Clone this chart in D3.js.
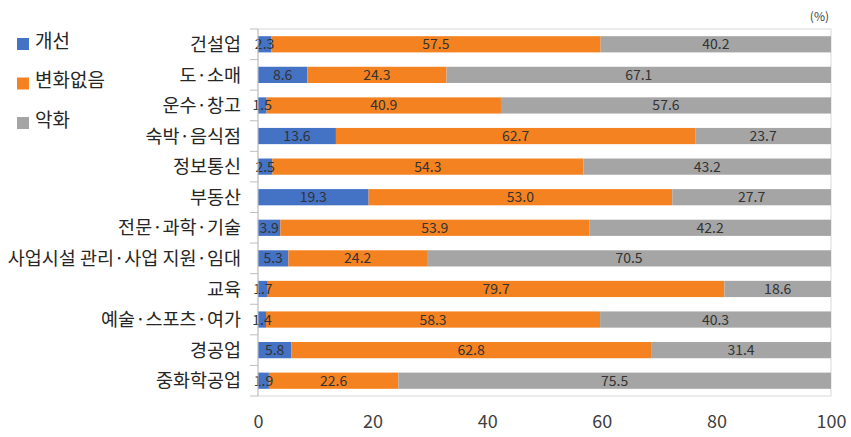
<!DOCTYPE html>
<html>
<head>
<meta charset="utf-8">
<script src="https://cdn.jsdelivr.net/npm/d3@7"></script>
<style>
  body { margin: 0; background: #fff; }
  text { font-family: "Noto Sans CJK KR", "Noto Sans", sans-serif; }
</style>
</head>
<body>
<div id="chart"></div>
<script>
// categories (top to bottom)
var categories = ["건설업", "도·소매", "운수·창고", "숙박·음식점", "정보통신", "부동산",
    "전문·과학·기술", "사업시설 관리·사업 지원·임대", "교육", "예술·스포츠·여가", "경공업", "중화학공업"];
var seriesNames = ["개선", "변화없음", "악화"];
var improved  = [2.3, 8.6, 1.5, 13.6, 2.5, 19.3, 3.9, 5.3, 1.7, 1.4, 5.8, 1.9];
var unchanged = [57.5, 24.3, 40.9, 62.7, 54.3, 53.0, 53.9, 24.2, 79.7, 58.3, 62.8, 22.6];
var worsened  = [40.2, 67.1, 57.6, 23.7, 43.2, 27.7, 42.2, 70.5, 18.6, 40.3, 31.4, 75.5];
var xTicks = [0, 20, 40, 60, 80, 100];
var colors = ["#4472C4", "#F58220", "#A5A5A5"];

var W = 851, H = 437;
var margin = { top: 29, right: 20, bottom: 42, left: 258 };
var bottom = 396;

var svg = d3.select("#chart")
    .append("svg")
    .attr("width", W)
    .attr("height", H);

var x = d3.scaleLinear()
    .domain([0, 100])
    .range([margin.left, 831]);

var y = d3.scaleBand()
    .domain(categories)
    .range([margin.top, bottom])
    .paddingInner(0.47)
    .paddingOuter(0.235);

// plot border
svg.append("rect")
    .attr("x", x(0))
    .attr("y", margin.top)
    .attr("width", x(100) - x(0))
    .attr("height", bottom - margin.top)
    .attr("fill", "none")
    .attr("stroke", "#d9d9d9");

// stacked rows
var rows = categories.map((c, i) => ({ cat: c, vals: [improved[i], unchanged[i], worsened[i]] }));
var stack = d3.stack().keys([0, 1, 2]).value((d, k) => d.vals[k]);
var layers = stack(rows);

var g = svg.selectAll("g.layer")
    .data(layers)
    .join("g")
    .attr("class", "layer")
    .attr("fill", (d, i) => colors[i]);

g.selectAll("rect")
    .data(d => d)
    .join("rect")
    .attr("x", d => x(d[0]))
    .attr("y", d => y(d.data.cat))
    .attr("width", d => x(d[1]) - x(d[0]))
    .attr("height", y.bandwidth());

// value labels
layers.forEach(function (layer, k) {
    svg.append("g")
        .selectAll("text")
        .data(layer)
        .join("text")
        .attr("x", d => (x(d[0]) + x(d[1])) / 2)
        .attr("y", d => y(d.data.cat) + y.bandwidth() / 2)
        .attr("dy", "0.36em")
        .attr("text-anchor", "middle")
        .attr("font-size", 14)
        .attr("font-family", "Liberation Sans, Arial, sans-serif")
        .attr("fill", "#333")
        .text(d => d.data.vals[k].toFixed(1));
});

// y axis
var yAxis = svg.append("g")
    .attr("transform", "translate(" + x(0) + ",0)");
yAxis.append("line")
    .attr("y1", margin.top).attr("y2", bottom)
    .attr("stroke", "#bfbfbf");
var step = y.step();
yAxis.selectAll("line.tick")
    .data(d3.range(categories.length + 1))
    .join("line")
    .attr("class", "tick")
    .attr("x1", -8).attr("x2", 0)
    .attr("y1", i => margin.top + i * step)
    .attr("y2", i => margin.top + i * step)
    .attr("stroke", "#bfbfbf");
yAxis.selectAll("text")
    .data(categories)
    .join("text")
    .attr("x", -17)
    .attr("y", d => y(d) + y.bandwidth() / 2)
    .attr("dy", "0.36em")
    .attr("text-anchor", "end")
    .attr("font-size", 18.5)
    .attr("fill", "#262626")
    .text(d => d);

// x axis
var xAxis = svg.append("g")
    .attr("transform", "translate(0," + bottom + ")")
    .call(d3.axisBottom(x).tickValues(xTicks).tickSize(0).tickPadding(19));
xAxis.select(".domain").remove();
xAxis.selectAll("text")
    .attr("font-size", 18)
    .attr("font-family", "Liberation Sans, Arial, sans-serif")
    .attr("fill", "#404040");

// unit
svg.append("text")
    .attr("x", 829)
    .attr("y", 21)
    .attr("text-anchor", "end")
    .attr("font-size", 12)
    .attr("fill", "#404040")
    .text("(%)");

// legend
var legend = svg.append("g");
seriesNames.forEach(function (name, i) {
    var ly = 44 + i * 39.5;
    legend.append("rect")
        .attr("x", 17).attr("y", ly - 6)
        .attr("width", 12).attr("height", 12)
        .attr("fill", colors[i]);
    legend.append("text")
        .attr("x", 35).attr("y", ly - 3)
        .attr("dy", "0.36em")
        .attr("font-size", 19)
        .attr("fill", "#262626")
        .text(name);
});
</script>
</body>
</html>
